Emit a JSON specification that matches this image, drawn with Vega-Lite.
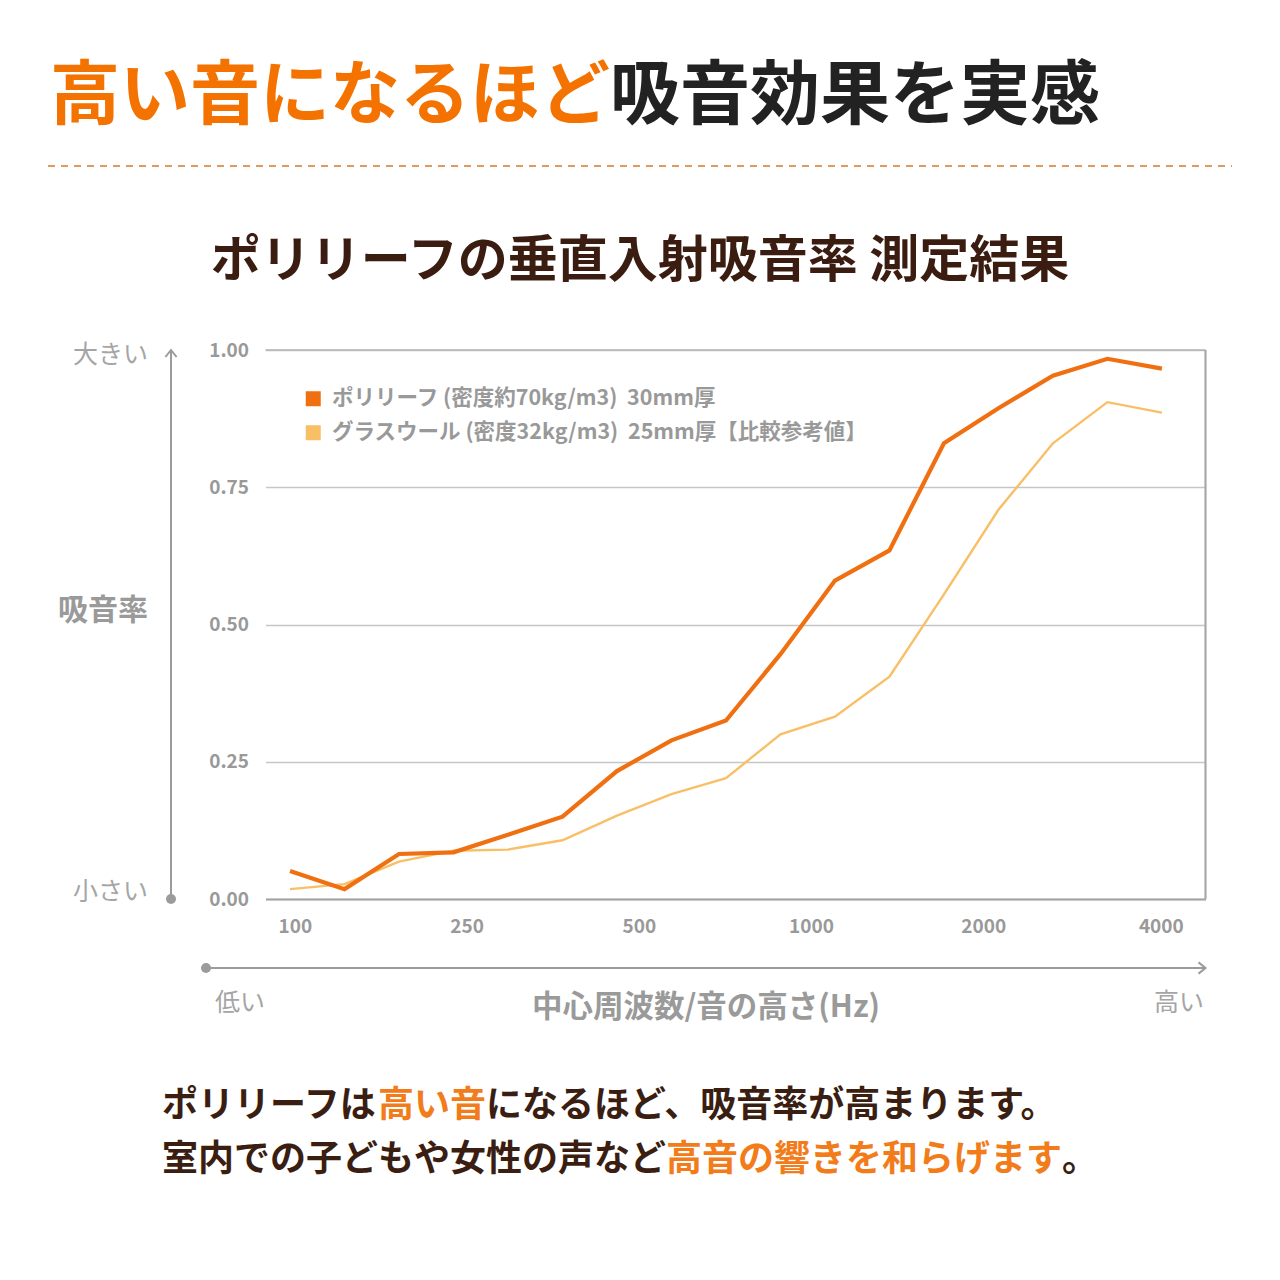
{
  "$schema": "https://vega.github.io/schema/vega-lite/v6.json",
  "autosize": {"type": "none"},
  "padding": {"left": 265.5, "top": 350, "right": 74.5, "bottom": 381},
  "width": 940,
  "height": 549,
  "background": "white",
  "layer": [
    {
      "data": {
        "values": [
          {"freq": 100, "band_index": 0, "material": "ポリリーフ", "absorption": 0.051},
          {"freq": 125, "band_index": 1, "material": "ポリリーフ", "absorption": 0.018},
          {"freq": 160, "band_index": 2, "material": "ポリリーフ", "absorption": 0.082},
          {"freq": 200, "band_index": 3, "material": "ポリリーフ", "absorption": 0.085},
          {"freq": 250, "band_index": 4, "material": "ポリリーフ", "absorption": 0.117},
          {"freq": 315, "band_index": 5, "material": "ポリリーフ", "absorption": 0.150},
          {"freq": 400, "band_index": 6, "material": "ポリリーフ", "absorption": 0.233},
          {"freq": 500, "band_index": 7, "material": "ポリリーフ", "absorption": 0.289},
          {"freq": 630, "band_index": 8, "material": "ポリリーフ", "absorption": 0.325},
          {"freq": 800, "band_index": 9, "material": "ポリリーフ", "absorption": 0.446},
          {"freq": 1000, "band_index": 10, "material": "ポリリーフ", "absorption": 0.580},
          {"freq": 1250, "band_index": 11, "material": "ポリリーフ", "absorption": 0.635},
          {"freq": 1600, "band_index": 12, "material": "ポリリーフ", "absorption": 0.830},
          {"freq": 2000, "band_index": 13, "material": "ポリリーフ", "absorption": 0.894},
          {"freq": 2500, "band_index": 14, "material": "ポリリーフ", "absorption": 0.953},
          {"freq": 3150, "band_index": 15, "material": "ポリリーフ", "absorption": 0.984},
          {"freq": 4000, "band_index": 16, "material": "ポリリーフ", "absorption": 0.966},
          {"freq": 100, "band_index": 0, "material": "グラスウール", "absorption": 0.018},
          {"freq": 125, "band_index": 1, "material": "グラスウール", "absorption": 0.027},
          {"freq": 160, "band_index": 2, "material": "グラスウール", "absorption": 0.068},
          {"freq": 200, "band_index": 3, "material": "グラスウール", "absorption": 0.088},
          {"freq": 250, "band_index": 4, "material": "グラスウール", "absorption": 0.090},
          {"freq": 315, "band_index": 5, "material": "グラスウール", "absorption": 0.107},
          {"freq": 400, "band_index": 6, "material": "グラスウール", "absorption": 0.152},
          {"freq": 500, "band_index": 7, "material": "グラスウール", "absorption": 0.191},
          {"freq": 630, "band_index": 8, "material": "グラスウール", "absorption": 0.220},
          {"freq": 800, "band_index": 9, "material": "グラスウール", "absorption": 0.300},
          {"freq": 1000, "band_index": 10, "material": "グラスウール", "absorption": 0.332},
          {"freq": 1250, "band_index": 11, "material": "グラスウール", "absorption": 0.405},
          {"freq": 1600, "band_index": 12, "material": "グラスウール", "absorption": 0.555},
          {"freq": 2000, "band_index": 13, "material": "グラスウール", "absorption": 0.709},
          {"freq": 2500, "band_index": 14, "material": "グラスウール", "absorption": 0.830},
          {"freq": 3150, "band_index": 15, "material": "グラスウール", "absorption": 0.905},
          {"freq": 4000, "band_index": 16, "material": "グラスウール", "absorption": 0.886}
        ]
      },
      "encoding": {
        "x": {
          "field": "band_index",
          "type": "quantitative",
          "scale": {"domain": [-0.45, 16.8], "nice": false, "zero": false},
          "axis": {
            "values": [0.09, 3.24, 6.4, 9.56, 12.72, 15.98],
            "labelExpr": "datum.value < 1 ? '100' : datum.value < 4 ? '250' : datum.value < 7 ? '500' : datum.value < 10 ? '1000' : datum.value < 13 ? '2000' : '4000'",
            "grid": false,
            "ticks": false,
            "domain": true,
            "domainColor": "#a3a3a3",
            "domainWidth": 1.8,
            "labelFlush": false,
            "labelPadding": 18,
            "labelFontSize": 19,
            "labelFontWeight": "bold",
            "labelColor": "#999999",
            "title": "中心周波数/音の高さ(Hz)",
            "titleX": 440,
            "titleY": 108.4,
            "titleAlign": "center",
            "titleBaseline": "middle",
            "titleFontSize": 30.5,
            "titleFontWeight": "bold",
            "titleColor": "#9a9a9a"
          }
        },
        "y": {
          "field": "absorption",
          "type": "quantitative",
          "scale": {"domain": [0, 1], "nice": false, "zero": false},
          "axis": {
            "values": [0, 0.25, 0.5, 0.75, 1],
            "format": ".2f",
            "grid": true,
            "gridColor": "#c6c6c6",
            "gridWidth": 1.3,
            "domain": false,
            "ticks": false,
            "labelPadding": 17,
            "labelFontSize": 19,
            "labelFontWeight": "bold",
            "labelColor": "#999999",
            "title": "吸音率",
            "titleAngle": 0,
            "titleX": -163,
            "titleY": 260.4,
            "titleAlign": "center",
            "titleBaseline": "middle",
            "titleFontSize": 30,
            "titleFontWeight": "bold",
            "titleColor": "#9a9a9a"
          }
        },
        "color": {
          "field": "material",
          "type": "nominal",
          "scale": {"domain": ["ポリリーフ", "グラスウール"], "range": ["#f06f10", "#f9bf66"]},
          "legend": {
            "orient": "none",
            "legendX": 37,
            "legendY": 38,
            "title": null,
            "padding": 0,
            "symbolType": "square",
            "symbolSize": 225,
            "symbolStrokeWidth": 0,
            "labelOffset": 8,
            "rowPadding": 11,
            "labelFontSize": 21.5,
            "labelFontWeight": "bold",
            "labelColor": "#999999",
            "labelLimit": 900,
            "labelExpr": "datum.value === 'ポリリーフ' ? 'ポリリーフ (密度約70kg/m3)\u00a0 30mm厚' : 'グラスウール (密度32kg/m3)\u00a0 25mm厚【比較参考値】'",
            "encode": {
              "symbols": {
                "update": {
                  "fill": {"scale": "color", "field": "value"},
                  "fillOpacity": {"value": 1},
                  "strokeWidth": {"value": 0}
                }
              }
            }
          }
        }
      },
      "layer": [
        {
          "transform": [{"filter": {"field": "material", "equal": "グラスウール"}}],
          "mark": {"type": "line", "strokeWidth": 2.4}
        },
        {
          "transform": [{"filter": {"field": "material", "equal": "ポリリーフ"}}],
          "mark": {"type": "line", "strokeWidth": 4.2}
        }
      ]
    },
    {
      "data": {"values": [{}]},
      "mark": {"type": "text", "text": "高い音になるほど", "align": "left", "baseline": "middle", "fontSize": 70, "fontWeight": "bold", "color": "#f47200"},
      "encoding": {
        "x": {"datum": -4.4047, "type": "quantitative"},
        "y": {"datum": 1.4588, "type": "quantitative"}
      }
    },
    {
      "data": {"values": [{}]},
      "mark": {"type": "text", "text": "吸音効果を実感", "align": "left", "baseline": "middle", "fontSize": 70, "fontWeight": "bold", "color": "#222222"},
      "encoding": {
        "x": {"datum": 5.8719, "type": "quantitative"},
        "y": {"datum": 1.4588, "type": "quantitative"}
      }
    },
    {
      "data": {"values": [{}]},
      "mark": {"type": "rule", "color": "#e0995e", "strokeWidth": 2, "strokeDash": [7, 6]},
      "encoding": {
        "x": {"datum": -4.4413, "type": "quantitative"},
        "x2": {"datum": 17.2863},
        "y": {"datum": 1.3352, "type": "quantitative"}
      }
    },
    {
      "data": {"values": [{}]},
      "mark": {"type": "text", "text": "ポリリーフの垂直入射吸音率 測定結果", "align": "center", "baseline": "middle", "fontSize": 50, "fontWeight": "bold", "color": "#3a1c10"},
      "encoding": {
        "x": {"datum": 6.4225, "type": "quantitative"},
        "y": {"datum": 1.1603, "type": "quantitative"}
      }
    },
    {
      "data": {"values": [{}]},
      "mark": {"type": "rule", "color": "#b4b4b4", "strokeWidth": 1.5},
      "encoding": {
        "x": {"datum": -0.45, "type": "quantitative"},
        "x2": {"datum": 16.8},
        "y": {"datum": 1, "type": "quantitative"}
      }
    },
    {
      "data": {"values": [{}]},
      "mark": {"type": "rule", "color": "#a8a8a8", "strokeWidth": 2.2},
      "encoding": {
        "x": {"datum": 16.8, "type": "quantitative"},
        "y": {"datum": 0, "type": "quantitative"},
        "y2": {"datum": 1}
      }
    },
    {
      "data": {"values": [{}]},
      "mark": {"type": "rule", "color": "#9b9b9b", "strokeWidth": 2},
      "encoding": {
        "x": {"datum": -2.1842, "type": "quantitative"},
        "y": {"datum": 0, "type": "quantitative"},
        "y2": {"datum": 1}
      }
    },
    {
      "data": {"values": [{}]},
      "mark": {"type": "rule", "color": "#9b9b9b", "strokeWidth": 2},
      "encoding": {
        "x": {"datum": -1.5419, "type": "quantitative"},
        "x2": {"datum": 16.8},
        "y": {"datum": -0.12568, "type": "quantitative"}
      }
    },
    {
      "data": {"values": [{}]},
      "mark": {"type": "point", "shape": "M-0.8,1L0,0L0.8,1", "filled": false, "color": "#9b9b9b", "strokeWidth": 2, "size": 196, "opacity": 1},
      "encoding": {
        "x": {"datum": -2.1842, "type": "quantitative"},
        "y": {"datum": 1, "type": "quantitative"}
      }
    },
    {
      "data": {"values": [{}]},
      "mark": {"type": "point", "shape": "M-1,-0.8L0,0L-1,0.8", "filled": false, "color": "#9b9b9b", "strokeWidth": 2, "size": 196, "opacity": 1},
      "encoding": {
        "x": {"datum": 16.8, "type": "quantitative"},
        "y": {"datum": -0.12568, "type": "quantitative"}
      }
    },
    {
      "data": {"values": [{}]},
      "mark": {"type": "point", "shape": "circle", "filled": true, "color": "#9b9b9b", "size": 100, "opacity": 1},
      "encoding": {
        "x": {"datum": -2.1842, "type": "quantitative"},
        "y": {"datum": 0, "type": "quantitative"}
      }
    },
    {
      "data": {"values": [{}]},
      "mark": {"type": "point", "shape": "circle", "filled": true, "color": "#9b9b9b", "size": 100, "opacity": 1},
      "encoding": {
        "x": {"datum": -1.5419, "type": "quantitative"},
        "y": {"datum": -0.12568, "type": "quantitative"}
      }
    },
    {
      "data": {"values": [{}]},
      "mark": {"type": "text", "text": "大きい", "align": "right", "baseline": "middle", "fontSize": 25, "color": "#a5a5a5"},
      "encoding": {
        "x": {"datum": -2.6062, "type": "quantitative"},
        "y": {"datum": 0.9909, "type": "quantitative"}
      }
    },
    {
      "data": {"values": [{}]},
      "mark": {"type": "text", "text": "小さい", "align": "right", "baseline": "middle", "fontSize": 25, "color": "#a5a5a5"},
      "encoding": {
        "x": {"datum": -2.6062, "type": "quantitative"},
        "y": {"datum": 0.01275, "type": "quantitative"}
      }
    },
    {
      "data": {"values": [{}]},
      "mark": {"type": "text", "text": "低い", "align": "left", "baseline": "middle", "fontSize": 25, "color": "#a5a5a5"},
      "encoding": {
        "x": {"datum": -1.3767, "type": "quantitative"},
        "y": {"datum": -0.18944, "type": "quantitative"}
      }
    },
    {
      "data": {"values": [{}]},
      "mark": {"type": "text", "text": "高い", "align": "right", "baseline": "middle", "fontSize": 25, "color": "#a5a5a5"},
      "encoding": {
        "x": {"datum": 16.7724, "type": "quantitative"},
        "y": {"datum": -0.18944, "type": "quantitative"}
      }
    },
    {
      "data": {"values": [{}]},
      "mark": {"type": "text", "text": "ポリリーフは", "align": "left", "baseline": "middle", "fontSize": 36, "fontWeight": "bold", "color": "#3b1e12"},
      "encoding": {
        "x": {"datum": -2.3493, "type": "quantitative"},
        "y": {"datum": -0.3769, "type": "quantitative"}
      }
    },
    {
      "data": {"values": [{}]},
      "mark": {"type": "text", "text": "高い音", "align": "left", "baseline": "middle", "fontSize": 36, "fontWeight": "bold", "color": "#f27c1a"},
      "encoding": {
        "x": {"datum": 1.6145, "type": "quantitative"},
        "y": {"datum": -0.3769, "type": "quantitative"}
      }
    },
    {
      "data": {"values": [{}]},
      "mark": {"type": "text", "text": "になるほど、吸音率が高まります。", "align": "left", "baseline": "middle", "fontSize": 36, "fontWeight": "bold", "color": "#3b1e12"},
      "encoding": {
        "x": {"datum": 3.5964, "type": "quantitative"},
        "y": {"datum": -0.3769, "type": "quantitative"}
      }
    },
    {
      "data": {"values": [{}]},
      "mark": {"type": "text", "text": "室内での子どもや女性の声など", "align": "left", "baseline": "middle", "fontSize": 36, "fontWeight": "bold", "color": "#3b1e12"},
      "encoding": {
        "x": {"datum": -2.3493, "type": "quantitative"},
        "y": {"datum": -0.4752, "type": "quantitative"}
      }
    },
    {
      "data": {"values": [{}]},
      "mark": {"type": "text", "text": "高音の響きを和らげます", "align": "left", "baseline": "middle", "fontSize": 36, "fontWeight": "bold", "color": "#f27c1a"},
      "encoding": {
        "x": {"datum": 6.8996, "type": "quantitative"},
        "y": {"datum": -0.4752, "type": "quantitative"}
      }
    },
    {
      "data": {"values": [{}]},
      "mark": {"type": "text", "text": "。", "align": "left", "baseline": "middle", "fontSize": 36, "fontWeight": "bold", "color": "#3b1e12"},
      "encoding": {
        "x": {"datum": 14.1667, "type": "quantitative"},
        "y": {"datum": -0.4752, "type": "quantitative"}
      }
    }
  ],
  "config": {
    "view": {"stroke": null},
    "font": "Noto Sans CJK JP"
  }
}
